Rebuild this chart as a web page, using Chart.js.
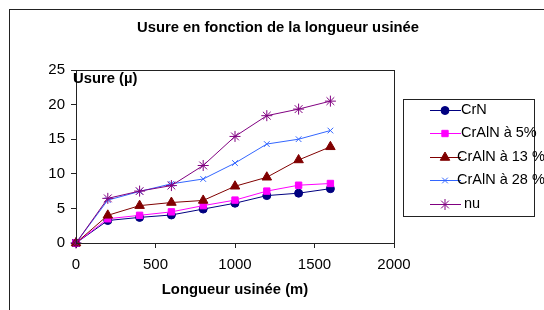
<!DOCTYPE html>
<html>
<head>
<meta charset="utf-8">
<script src="https://cdn.jsdelivr.net/npm/chart.js@4"></script>
<style>
  html, body { margin: 0; padding: 0; background: #fff; }
  #wrap { width: 544px; height: 310px; position: relative; }
</style>
</head>
<body>
<div id="wrap"><canvas id="chart" width="544" height="310"></canvas></div>
<script>
// Usure (µ) mesurée tous les 200 m
const longueurs = [0, 200, 400, 600, 800, 1000, 1200, 1400, 1600];
const crN = [0, 3.25, 3.7, 4.05, 4.9, 5.75, 6.85, 7.2, 7.85];
const crAlN5 = [0, 3.5, 4.0, 4.5, 5.4, 6.2, 7.5, 8.35, 8.6];
const crAlN13 = [0, 4.0, 5.4, 5.85, 6.15, 8.2, 9.5, 12.0, 13.9];
const crAlN28 = [0, 6.2, 7.45, 8.55, 9.25, 11.55, 14.3, 15.0, 16.25];
const nu = [0, 6.45, 7.5, 8.3, 11.2, 15.4, 18.4, 19.35, 20.5];

const seriesNames = ['CrN', 'CrAlN à 5%', 'CrAlN à 13 %', 'CrAlN à 28 %', 'nu'];
const seriesValues = [crN, crAlN5, crAlN13, crAlN28, nu];
const seriesColors = ['#000080', '#FF00FF', '#800000', '#3366FF', '#800080'];
const seriesMarkers = ['circle', 'rect', 'triangle', 'crossRot', 'star'];
const markerSizes = [4, 4.5, 5.5, 4, 5.5];

const font = 'Arial, "Liberation Sans", sans-serif';

const datasets = seriesNames.map((name, i) => ({
  label: name,
  data: longueurs.map((x, j) => ({ x, y: seriesValues[i][j] })),
  borderColor: seriesColors[i],
  backgroundColor: seriesColors[i],
  borderWidth: 1,
  pointStyle: seriesMarkers[i],
  pointRadius: markerSizes[i],
  pointBorderWidth: 1,
  pointBorderColor: seriesColors[i],
  pointBackgroundColor: seriesColors[i],
  tension: 0,
  clip: false,
  order: seriesNames.length - i,
}));

// frame, titles and legend box, drawn like the Excel original
const decor = {
  id: 'decor',
  beforeDraw(chart) {
    const ctx = chart.ctx;
    ctx.save();
    ctx.strokeStyle = '#222';
    ctx.lineWidth = 1;
    ctx.strokeRect(9.5, 9.5, 700, 500);
    ctx.restore();
  },
  afterDatasetsDraw(chart) {
    const ctx = chart.ctx;
    const a = chart.chartArea;
    ctx.save();
    ctx.strokeStyle = '#222';
    ctx.lineWidth = 1;
    ctx.strokeRect(Math.round(a.left) + 0.5, Math.round(a.top) + 0.5,
      Math.round(a.right - a.left), Math.round(a.bottom - a.top));

    ctx.fillStyle = '#000';
    ctx.font = 'bold 14.8px ' + font;
    ctx.textBaseline = 'middle';
    ctx.textAlign = 'center';
    ctx.fillText('Usure en fonction de la longueur usinée', 278, 28);
    ctx.fillText('Longueur usinée (m)', (a.left + a.right) / 2, 290);
    ctx.textAlign = 'left';
    ctx.fillText('Usure (µ)', 73, 79);

    // legend
    ctx.strokeStyle = '#222';
    ctx.strokeRect(403.5, 99.5, 131, 117);
    ctx.font = '14.5px ' + font;
    chart.data.datasets.forEach((ds, i) => {
      const y = 110 + i * 23.4;
      ctx.strokeStyle = ds.borderColor;
      ctx.lineWidth = 1;
      ctx.beginPath();
      ctx.moveTo(430, Math.round(y) + 0.5);
      ctx.lineTo(461, Math.round(y) + 0.5);
      ctx.stroke();
      ctx.fillStyle = ds.backgroundColor;
      Chart.helpers.drawPoint(ctx, {
        pointStyle: ds.pointStyle, radius: ds.pointRadius, borderWidth: 1, rotation: 0
      }, 445, Math.round(y) + 0.5);
      ctx.fillStyle = '#000';
      const tx = [461, 461, 457, 457, 464][i];
      ctx.fillText(ds.label, tx, y);
    });
    ctx.restore();
  }
};

new Chart(document.getElementById('chart'), {
  type: 'line',
  data: { datasets },
  options: {
    responsive: false,
    animation: false,
    layout: { padding: { left: 10, right: 150, top: 70, bottom: 37 } },
    plugins: { legend: { display: false }, title: { display: false }, tooltip: { enabled: false } },
    scales: {
      x: {
        type: 'linear',
        min: 0, max: 2000,
        ticks: { stepSize: 500, color: '#000', font: { size: 15, family: font }, padding: 8, maxRotation: 0,
          callback: (v) => String(v) },
        grid: { drawOnChartArea: false, drawTicks: true, tickLength: 5, color: '#222' },
        border: { display: false },
        afterFit(scale) { scale.height = 30; }
      },
      y: {
        min: 0, max: 25,
        ticks: { stepSize: 5, color: '#000', font: { size: 15, family: font }, padding: 6 },
        grid: { drawOnChartArea: false, drawTicks: true, tickLength: 5, color: '#222' },
        border: { display: false },
        afterFit(scale) { scale.width = 66; }
      }
    }
  },
  plugins: [decor]
});
</script>
</body>
</html>
